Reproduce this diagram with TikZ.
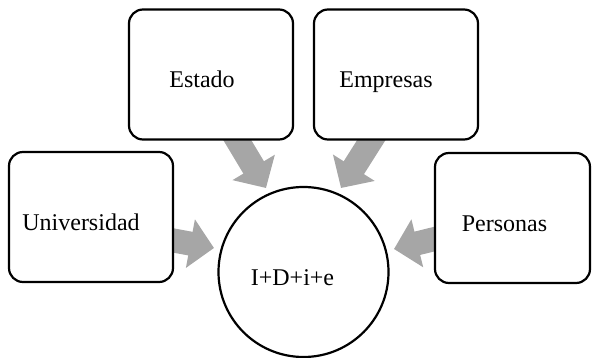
\documentclass[tikz,border=0pt]{standalone}
\usepackage{fontspec}
\setmainfont{Liberation Serif}
\usetikzlibrary{arrows.meta}
\definecolor{arrowgray}{HTML}{A6A6A6}
\begin{document}
\begin{tikzpicture}[x=1pt,y=-1pt,
  box/.style={draw, line width=2.2pt, rounded corners=14pt, fill=white,
    minimum width=164pt, minimum height=130pt, inner sep=0pt,
    text height=27pt, text depth=0pt, font=\fontsize{24}{28}\selectfont},
  hub/.style={draw, circle, line width=2.2pt, fill=white, minimum size=170pt,
    inner sep=0pt, text height=28pt, text depth=0pt, font=\fontsize{24}{28}\selectfont},
  flow/.style={draw=arrowgray, line width=24pt, -{Triangle[width=48pt,length=24pt]}}
]
\useasboundingbox (0,0) rectangle (592,358);
% arrow end points
\coordinate (tE) at (230,128);
\coordinate (pE) at (266,188);
\coordinate (tM) at (379,128);
\coordinate (pM) at (341,188);
\coordinate (tU) at (160,238);
\coordinate (pU) at (214,248);
\coordinate (tP) at (447,236);
\coordinate (pP) at (394,249);
\draw[flow] (tE) -- (pE);
\draw[flow] (tM) -- (pM);
\draw[flow] (tU) -- (pU);
\draw[flow] (tP) -- (pP);
% nodes
\node[box] (estado) at (211,74.5) {Estado\hspace*{18pt}};
\node[box] (empresas) at (396,74.5) {Empresas\hspace*{20pt}};
\node[box] (universidad) at (91,217) {Universidad\hspace*{20pt}};
\node[box, minimum width=155pt] (personas) at (512.5,218) {Personas\hspace*{16pt}};
\node[hub] (idi) at (303.5,272) {I+D+i+e\hspace*{22pt}};
\end{tikzpicture}
\end{document}
